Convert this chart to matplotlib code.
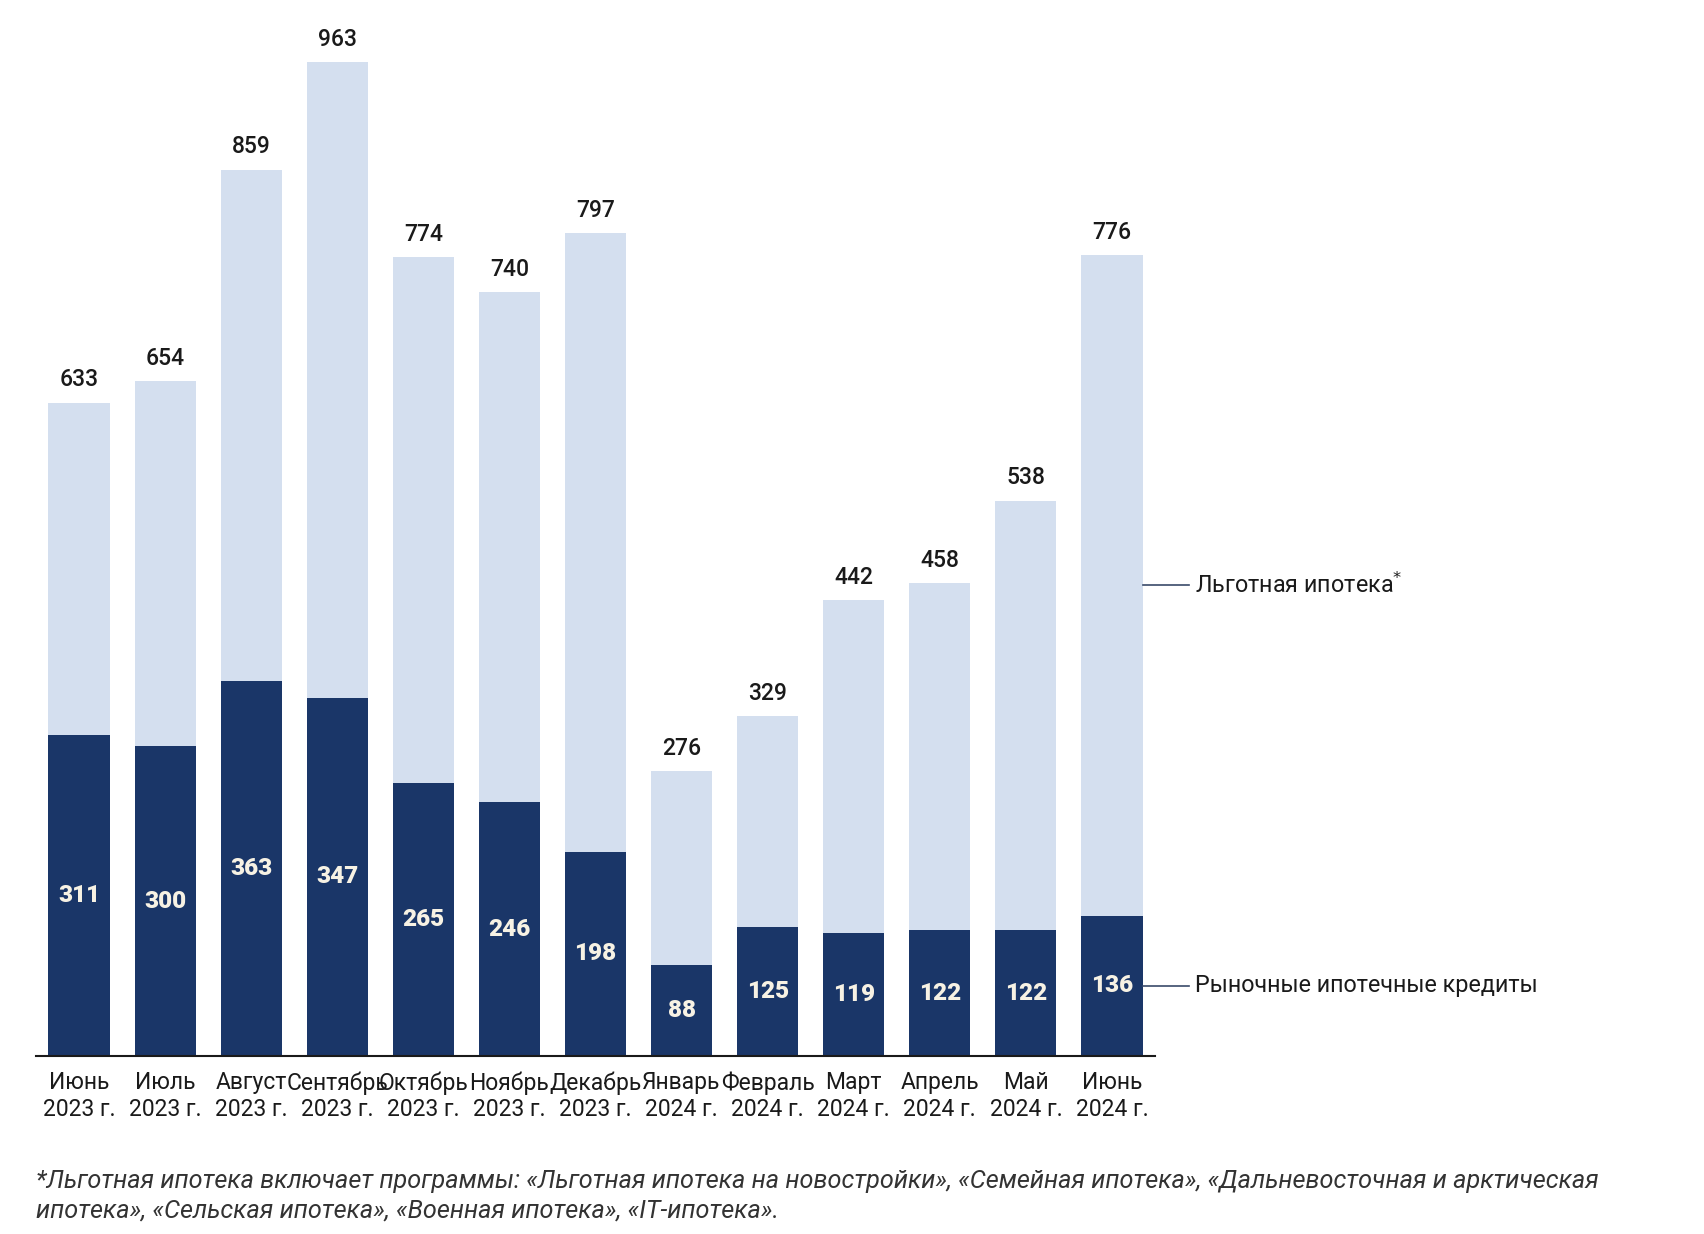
import matplotlib
matplotlib.use("Agg")
import matplotlib.pyplot as plt

plt.rcParams['font.family'] = ['Roboto', 'DejaVu Sans']

months = ["Июнь\n2023 г.", "Июль\n2023 г.", "Август\n2023 г.", "Сентябрь\n2023 г.",
          "Октябрь\n2023 г.", "Ноябрь\n2023 г.", "Декабрь\n2023 г.", "Январь\n2024 г.",
          "Февраль\n2024 г.", "Март\n2024 г.", "Апрель\n2024 г.", "Май\n2024 г.",
          "Июнь\n2024 г."]
totals = [633, 654, 859, 963, 774, 740, 797, 276, 329, 442, 458, 538, 776]
market = [311, 300, 363, 347, 265, 246, 198, 88, 125, 119, 122, 122, 136]
preferential = [t - m for t, m in zip(totals, market)]

series_names = ["Рыночные ипотечные кредиты", "Льготная ипотека"]
footnote = ("*Льготная ипотека включает программы: «Льготная ипотека на новостройки», «Семейная ипотека», «Дальневосточная и арктическая\n"
            "ипотека», «Сельская ипотека», «Военная ипотека», «IT-ипотека».")

dark = "#1a3668"
light = "#d4dfef"

fig = plt.figure(figsize=(17.04, 12.34), dpi=100)
ax = fig.add_axes([36/1704, (1234-1056)/1234, (1155-36)/1704, (1056-24)/1234])

x = list(range(len(months)))
w = 0.71
ax.bar(x, market, width=w, color=dark, zorder=2)
ax.bar(x, preferential, width=w, bottom=market, color=light, zorder=2)

for xi, m, t in zip(x, market, totals):
    ax.text(xi, m / 2, str(m), ha='center', va='center', color='#f7f2e4',
            fontsize=17.5, fontweight='heavy')
    ax.text(xi, t + 11, str(t), ha='center', va='bottom', color='#1a1a1a',
            fontsize=16.5, fontweight='medium')

ax.set_xlim(-0.5, len(months) - 0.5)
ax.set_ylim(0, 1000)
ax.set_xticks(x)
ax.set_xticklabels(months, fontsize=16.5, color='#1a1a1a', linespacing=1.2)
ax.tick_params(axis='x', length=0, pad=11)
ax.set_yticks([])
for s in ['top', 'right', 'left']:
    ax.spines[s].set_visible(False)
ax.spines['bottom'].set_color('#1a1a1a')
ax.spines['bottom'].set_linewidth(1.5)

# series labels connected to last bar
last = len(months) - 1
y_market = market[last] / 2
y_pref = market[last] + preferential[last] / 2
for yv, name, sup in [(y_market, series_names[0], ""), (y_pref, series_names[1], "*")]:
    ax.plot([last + w / 2, last + 0.9], [yv, yv], color='#3a4a6a', lw=1.2, clip_on=False)
    ax.text(last + 0.96, yv, name + ("$^{*}$" if sup else ""), ha='left', va='center',
            fontsize=16.8, color='#1a1a1a', clip_on=False)

fig.text(36/1704, 1-1196/1234, footnote, ha='left', va='center', fontsize=18.2,
         style='italic', color='#333333', linespacing=1.3)

fig.savefig("out.png", dpi=100)
